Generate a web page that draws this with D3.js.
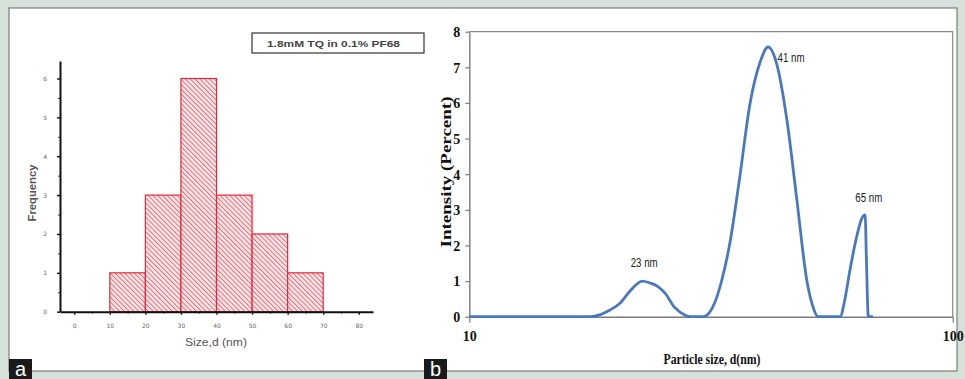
<!DOCTYPE html>
<html>
<head>
<meta charset="utf-8">
<script src="https://cdn.jsdelivr.net/npm/d3@7"></script>
<style>
  html, body { margin: 0; padding: 0; background: #d5e1d9; }
  svg { display: block; }
</style>
</head>
<body>
<svg id="chart" width="965" height="379"></svg>
<script>
// Panel a: histogram of sizes
const binStarts = [10, 20, 30, 40, 50, 60];
const binWidth = 10;
const frequencies = [1, 3, 6, 3, 2, 1];
const histXTicks = [0, 10, 20, 30, 40, 50, 60, 70, 80];
const histYTicks = [0, 1, 2, 3, 4, 5, 6];

// Panel b: DLS intensity distribution
const particleSize = [10, 17.8, 18.6, 19.5, 20.5, 21.5, 22.8, 23.6, 24.6, 25.4, 26.6, 27.9, 28.6,
  30.5, 31.4, 32.2, 33.3, 34.6, 36.2, 38.1, 39.9, 41.5, 43.2, 45.4, 47.6, 49.9, 51.2, 52.7,
  58.5, 59.8, 61.3, 63.3, 64.9, 65.9, 66.3, 66.9, 68.4];
const intensity = [0, 0, 0.05, 0.18, 0.38, 0.72, 1.0, 0.95, 0.84, 0.66, 0.26, 0.05, 0,
  0, 0.12, 0.40, 1.03, 2.07, 3.84, 6.0, 7.12, 7.57, 7.12, 5.52, 3.28, 1.03, 0.35, 0,
  0, 0.47, 1.31, 2.25, 2.77, 2.86, 1.6, 0, 0];
const dlsYTicks = [0, 1, 2, 3, 4, 5, 6, 7, 8];
const dlsXTicks = [10, 100];
const peakLabels = [
  { size: 23, value: 1.0, text: '23 nm', dx: 0, dy: -14, anchor: 'middle' },
  { size: 41, value: 7.57, text: '41 nm', dx: 12, dy: 15, anchor: 'start' },
  { size: 65, value: 2.86, text: '65 nm', dx: -7, dy: -13, anchor: 'start' },
];

const svg = d3.select('#chart');

// white paper panel
svg.append('rect')
  .attr('x', 9).attr('y', 8).attr('width', 948).attr('height', 363)
  .attr('fill', '#fff').attr('stroke', '#666').attr('stroke-width', 1);

const defs = svg.append('defs');
const hatch = defs.append('pattern')
  .attr('id', 'hatch')
  .attr('patternUnits', 'userSpaceOnUse')
  .attr('width', 3.4).attr('height', 3.4)
  .attr('patternTransform', 'rotate(-45)');
hatch.append('rect').attr('width', 3.4).attr('height', 3.4).attr('fill', '#fbe4e6');
hatch.append('line')
  .attr('x1', 0).attr('y1', 0).attr('x2', 0).attr('y2', 3.4)
  .attr('stroke', '#dc4856').attr('stroke-width', 1.4);

// ---------- panel a ----------
const xL = d3.scaleLinear().domain([-4, 84]).range([60, 373]);
const yL = d3.scaleLinear().domain([0, 6.45]).range([311.7, 61]);
const gA = svg.append('g');

gA.selectAll('.bar')
  .data(binStarts)
  .join('rect')
  .attr('class', 'bar')
  .attr('x', (d) => xL(d))
  .attr('y', (d, i) => yL(frequencies[i]))
  .attr('width', (d) => xL(d + binWidth) - xL(d))
  .attr('height', (d, i) => yL(0) - yL(frequencies[i]))
  .attr('fill', 'url(#hatch)')
  .attr('stroke', '#e3283a')
  .attr('stroke-width', 1.2);

// minor ticks
const xMinor = d3.axisBottom(xL).tickValues(d3.range(5, 81, 10)).tickSize(2).tickFormat('');
const yMinor = d3.axisLeft(yL).tickValues(d3.range(0.5, 6.5, 1)).tickSize(2).tickFormat('');
gA.append('g').attr('transform', `translate(0,${yL(0)})`).call(xMinor)
  .call((g) => g.select('.domain').remove())
  .call((g) => g.selectAll('line').attr('stroke', '#333'));
gA.append('g').attr('transform', `translate(${xL.range()[0]},0)`).call(yMinor)
  .call((g) => g.select('.domain').remove())
  .call((g) => g.selectAll('line').attr('stroke', '#333'));

const xAxisA = gA.append('g')
  .attr('transform', `translate(0,${yL(0)})`)
  .call(d3.axisBottom(xL).tickValues(histXTicks).tickFormat(d3.format('d'))
    .tickSize(3).tickSizeOuter(0).tickPadding(9));
const yAxisA = gA.append('g')
  .attr('transform', `translate(${xL.range()[0]},0)`)
  .call(d3.axisLeft(yL).tickValues(histYTicks).tickFormat(d3.format('d'))
    .tickSize(3).tickSizeOuter(0).tickPadding(10));
[xAxisA, yAxisA].forEach((ax) => {
  ax.select('.domain').attr('stroke', '#111').attr('stroke-width', 2);
  ax.selectAll('line').attr('stroke', '#111').attr('stroke-width', 1.4);
  ax.selectAll('text').attr('fill', '#666').style('font', '6px "DejaVu Sans", sans-serif');
});

gA.append('text')
  .attr('transform', 'translate(36,193) rotate(-90)')
  .attr('text-anchor', 'middle')
  .attr('fill', '#555')
  .attr('textLength', 57).attr('lengthAdjust', 'spacingAndGlyphs')
  .style('font', 'bold 10px "Liberation Sans", Arial, sans-serif')
  .text('Frequency');

gA.append('text')
  .attr('x', 216).attr('y', 346)
  .attr('text-anchor', 'middle')
  .attr('fill', '#555')
  .attr('textLength', 62).attr('lengthAdjust', 'spacingAndGlyphs')
  .style('font', '10px "Liberation Sans", Arial, sans-serif')
  .text('Size,d (nm)');

// legend box
gA.append('rect')
  .attr('x', 252).attr('y', 33).attr('width', 172).attr('height', 20)
  .attr('fill', '#fff').attr('stroke', '#333').attr('stroke-width', 1.2);
gA.append('text')
  .attr('x', 267).attr('y', 46.5)
  .attr('fill', '#444')
  .attr('textLength', 133).attr('lengthAdjust', 'spacingAndGlyphs')
  .style('font', 'bold 9px "Liberation Sans", Arial, sans-serif')
  .text('1.8mM TQ in 0.1% PF68');

// ---------- panel b ----------
const xR = d3.scaleLog().domain([10, 100]).range([469.3, 952.7]);
const yR = d3.scaleLinear().domain([0, 8]).range([316.7, 31.7]);
const gB = svg.append('g');

// plot frame (top and right)
gB.append('path')
  .attr('d', `M${xR(10)},${yR(8)}H${xR(100)}V${yR(0)}`)
  .attr('fill', 'none').attr('stroke', '#8a8a8a').attr('stroke-width', 1.2);

const xAxisB = gB.append('g')
  .attr('transform', `translate(0,${yR(0)})`)
  .call(d3.axisBottom(xR).tickValues(dlsXTicks).tickFormat(d3.format('d'))
    .tickSize(6).tickSizeOuter(0).tickPadding(8));
const yAxisB = gB.append('g')
  .attr('transform', `translate(${xR(10)},0)`)
  .call(d3.axisLeft(yR).tickValues(dlsYTicks).tickSize(4).tickSizeOuter(0).tickPadding(5));
[xAxisB, yAxisB].forEach((ax) => {
  ax.select('.domain').attr('stroke', '#7a7a7a').attr('stroke-width', 1.4);
  ax.selectAll('line').attr('stroke', '#7a7a7a').attr('stroke-width', 1.2);
  ax.selectAll('text').attr('fill', '#111')
    .style('font', 'bold 14px "Liberation Serif", "Times New Roman", serif');
});
yAxisB.selectAll('text').attr('dy', '0.35em');

const line = d3.line()
  .x((d, i) => xR(particleSize[i]))
  .y((d) => yR(d))
  .curve(d3.curveMonotoneX);

gB.append('path')
  .datum(intensity)
  .attr('d', line)
  .attr('fill', 'none')
  .attr('stroke', '#4a78c0')
  .attr('stroke-width', 2.8)
  .attr('stroke-linejoin', 'round');

gB.selectAll('.peak')
  .data(peakLabels)
  .join('text')
  .attr('class', 'peak')
  .attr('x', (d) => xR(d.size) + d.dx)
  .attr('y', (d) => yR(d.value) + d.dy)
  .attr('text-anchor', (d) => d.anchor)
  .attr('fill', '#222')
  .attr('textLength', 27).attr('lengthAdjust', 'spacingAndGlyphs')
  .style('font', '12px "Liberation Sans Narrow", "Arial Narrow", sans-serif')
  .text((d) => d.text);

gB.append('text')
  .attr('transform', 'translate(451,172) rotate(-90)')
  .attr('text-anchor', 'middle')
  .attr('fill', '#111')
  .attr('textLength', 151).attr('lengthAdjust', 'spacingAndGlyphs')
  .style('font', 'bold 14px "Liberation Serif", "Times New Roman", serif')
  .text('Intensity (Percent)');

gB.append('text')
  .attr('x', 712).attr('y', 364)
  .attr('text-anchor', 'middle')
  .attr('fill', '#111')
  .attr('textLength', 97).attr('lengthAdjust', 'spacingAndGlyphs')
  .style('font', 'bold 15px "Liberation Serif", "Times New Roman", serif')
  .text('Particle size, d(nm)');

// panel letters
const panelLetters = [{ x: 9, t: 'a' }, { x: 424, t: 'b' }];
const letters = svg.selectAll('.letter').data(panelLetters).join('g').attr('class', 'letter');
letters.append('rect')
  .attr('x', (d) => d.x).attr('y', 359).attr('width', 23).attr('height', 20)
  .attr('fill', '#1a1a1a');
letters.append('text')
  .attr('x', (d) => d.x + 11.5).attr('y', 376)
  .attr('text-anchor', 'middle')
  .attr('fill', '#fff')
  .style('font', '20px "Liberation Sans", Arial, sans-serif')
  .text((d) => d.t);
</script>
</body>
</html>
